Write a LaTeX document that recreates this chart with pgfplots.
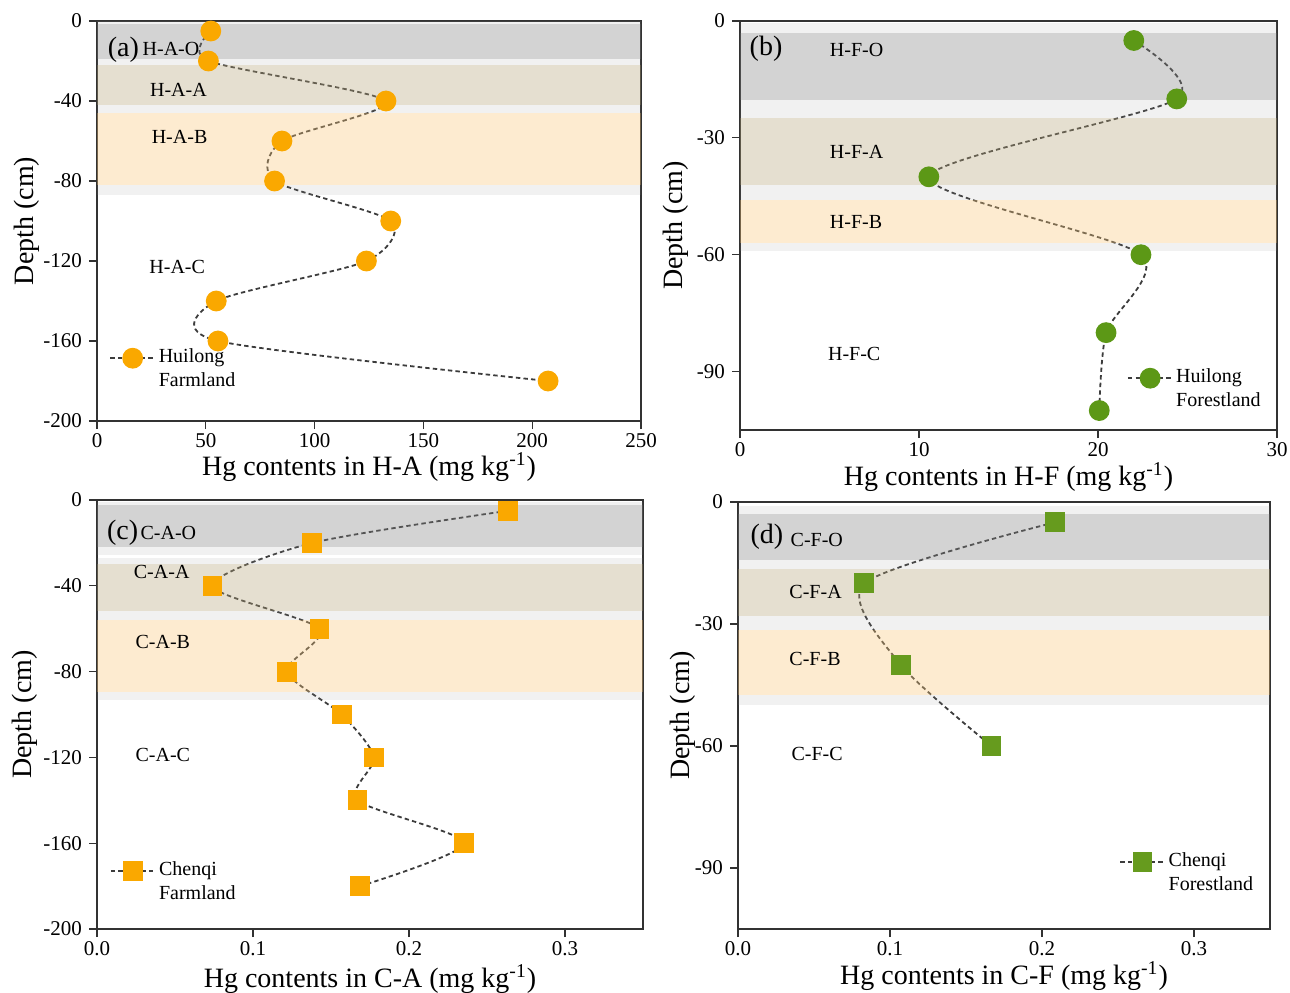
\documentclass[border=0pt]{standalone}
\usepackage{fontspec}
\setmainfont{Liberation Serif}
\usepackage{pgfplots}
\pgfplotsset{compat=1.18}
\definecolor{orangeM}{RGB}{250,168,0}
\definecolor{greenC}{RGB}{92,152,22}
\definecolor{greenS}{RGB}{102,155,30}
\definecolor{lineC}{RGB}{60,60,60}
\definecolor{axC}{RGB}{50,50,50}
\definecolor{bandG}{RGB}{129,129,129}
\definecolor{bandT}{RGB}{181,164,121}
\definecolor{bandO}{RGB}{249,198,121}
\definecolor{fringeC}{RGB}{150,150,150}
% color, xmax, fringe top, core top, core bottom, fringe bottom
\newcommand{\band}[6]{%
 \addplot[draw=none, fill=fringeC, fill opacity=0.13, forget plot] coordinates {(0,#3) (#2,#3) (#2,#4) (0,#4)} -- cycle;
 \addplot[draw=none, fill=#1, fill opacity=0.35, forget plot] coordinates {(0,#4) (#2,#4) (#2,#5) (0,#5)} -- cycle;
 \addplot[draw=none, fill=fringeC, fill opacity=0.13, forget plot] coordinates {(0,#5) (#2,#5) (#2,#6) (0,#6)} -- cycle;
}
\newcommand{\lfont}{\fontsize{14}{16}\selectfont}
\tikzset{
 lab/.style={anchor=west, font=\fontsize{10}{12}\selectfont, inner sep=0pt},
 plab/.style={anchor=west, font=\fontsize{14}{16}\selectfont, inner sep=0pt},
}
\pgfplotsset{
 panel/.style={
  scale only axis,
  axis line style={axC, line width=0.6pt},
  tick style={axC, line width=0.6pt},
  major tick length=4pt,
  tick align=outside,
  xtick pos=bottom, ytick pos=left,
  minor tick num=0,
  /pgf/number format/assume math mode=true,
  tick label style={font=\fontsize{10.5}{12}\selectfont},
  xticklabel style={inner sep=1pt, yshift=-1pt},
  legend cell align=left,
  legend image code/.code={\draw[mark repeat=2,mark phase=2,##1] plot coordinates {(0cm,0cm) (0.39cm,0cm) (0.78cm,0cm)};},
  legend style={draw=none, fill=none, inner sep=0pt, anchor=west,
    font=\fontsize{10}{12}\selectfont, nodes={inner sep=1.5pt}},
 },
 prof/.style={smooth, tension=0.45, lineC, line width=0.9pt, dash pattern=on 2.2pt off 1.6pt,
   mark options={solid, fill=#1, draw=#1}},
}
\begin{document}
\begin{tikzpicture}
\useasboundingbox (0,0) rectangle (645pt,-496pt);
% (a)
\begin{axis}[panel, at={(48.5pt,-10.5pt)}, anchor=north west, width=272pt, height=200pt,
  xmin=0, xmax=250, ymin=-200, ymax=0,
  xtick={0,50,100,150,200,250}, ytick={0,-40,-80,-120,-160,-200},
  xlabel={Hg contents in H-A (mg kg\textsuperscript{-1})}, ylabel={Depth (cm)},
  every axis x label/.style={at={(rel axis cs:0.5,0)}, yshift=-23pt, anchor=center, font=\lfont, inner sep=0pt},
  every axis y label/.style={at={(rel axis cs:0,0.5)}, xshift=-35pt, rotate=90, anchor=center, font=\lfont, inner sep=0pt},
  legend style={at={(axis cs:5.6,-168.6)}}]
\addplot[prof=orangeM, mark=*, mark size=4.75pt] coordinates {(52.3,-5) (51.2,-20) (132.8,-40) (85,-60) (81.6,-80) (135,-100) (123.8,-120) (54.8,-140) (55.6,-160) (207.3,-180)};
\addlegendentry{\raisebox{-0.3em}[0pt][0pt]{\begin{tabular}[t]{@{}l@{}}Huilong\\Farmland\end{tabular}}}
\band{bandG}{250}{0}{-1.5}{-19}{-21}
\band{bandT}{250}{-21}{-22}{-42}{-44.5}
\band{bandO}{250}{-44.5}{-46}{-82}{-87}
\node[plab] at (axis cs:4.8,-14.6) {(a)};
\node[lab] at (axis cs:20.8,-13.8) {H-A-O};
\node[lab] at (axis cs:24.2,-34.2) {H-A-A};
\node[lab] at (axis cs:25,-57.9) {H-A-B};
\node[lab] at (axis cs:23.9,-122.8) {H-A-C};
\end{axis}
% (b)
\begin{axis}[panel, at={(370pt,-10.5pt)}, anchor=north west, width=268.5pt, height=204.5pt,
  xmin=0, xmax=30, ymin=-105, ymax=0,
  xtick={0,10,20,30}, ytick={0,-30,-60,-90},
  xlabel={Hg contents in H-F (mg kg\textsuperscript{-1})}, ylabel={Depth (cm)},
  every axis x label/.style={at={(rel axis cs:0.5,0)}, yshift=-23.5pt, anchor=center, font=\lfont, inner sep=0pt},
  every axis y label/.style={at={(rel axis cs:0,0.5)}, xshift=-32pt, rotate=90, anchor=center, font=\lfont, inner sep=0pt},
  legend style={at={(axis cs:21.6,-91.7)}}]
\addplot[prof=greenC, mark=*, mark size=4.75pt] coordinates {(22.0,-5) (24.4,-20) (10.55,-40) (22.4,-60) (20.45,-80) (20.07,-100)};
\addlegendentry{\raisebox{-0.3em}[0pt][0pt]{\begin{tabular}[t]{@{}l@{}}Huilong\\Forestland\end{tabular}}}
\band{bandG}{30}{-0.5}{-3}{-20.2}{-22.4}
\band{bandT}{30}{-22.4}{-25}{-42.2}{-45}
\band{bandO}{30}{-45}{-46}{-57}{-59}
\node[plab] at (axis cs:0.52,-7.25) {(b)};
\node[lab] at (axis cs:5.0,-7.4) {H-F-O};
\node[lab] at (axis cs:5.0,-33.6) {H-F-A};
\node[lab] at (axis cs:5.0,-51.5) {H-F-B};
\node[lab] at (axis cs:4.9,-85.4) {H-F-C};
\end{axis}
% (c)
\begin{axis}[panel, at={(48.5pt,-250pt)}, anchor=north west, width=273pt, height=214.5pt,
  xmin=0, xmax=0.35, ymin=-200, ymax=0,
  xtick={0,0.1,0.2,0.3}, ytick={0,-40,-80,-120,-160,-200},
  xticklabel style={/pgf/number format/.cd, fixed, fixed zerofill, precision=1},
  xlabel={Hg contents in C-A (mg kg\textsuperscript{-1})}, ylabel={Depth (cm)},
  every axis x label/.style={at={(rel axis cs:0.5,0)}, yshift=-25pt, anchor=center, font=\lfont, inner sep=0pt},
  every axis y label/.style={at={(rel axis cs:0,0.5)}, xshift=-36pt, rotate=90, anchor=center, font=\lfont, inner sep=0pt},
  legend style={at={(axis cs:0.008,-172.8)}}]
\addplot[prof=orangeM, mark=square*, mark size=4.5pt] coordinates {(0.2637,-5) (0.138,-20) (0.074,-40) (0.1426,-60) (0.1216,-80) (0.1568,-100) (0.1776,-120) (0.167,-140) (0.2354,-160) (0.1687,-180)};
\addlegendentry{\raisebox{-0.3em}[0pt][0pt]{\begin{tabular}[t]{@{}l@{}}Chenqi\\Farmland\end{tabular}}}
\band{bandG}{0.35}{-1}{-2.5}{-21.8}{-25.5}
\band{bandT}{0.35}{-27}{-30}{-51.7}{-54}
\band{bandO}{0.35}{-54}{-56}{-89.5}{-93}
\node[plab] at (axis cs:0.0062,-15.3) {(c)};
\node[lab] at (axis cs:0.0277,-15.6) {C-A-O};
\node[lab] at (axis cs:0.0234,-33.5) {C-A-A};
\node[lab] at (axis cs:0.0245,-66.1) {C-A-B};
\node[lab] at (axis cs:0.0245,-118.8) {C-A-C};
\end{axis}
% (d)
\begin{axis}[panel, at={(369pt,-251pt)}, anchor=north west, width=266pt, height=213.5pt,
  xmin=0, xmax=0.35, ymin=-105, ymax=0,
  xtick={0,0.1,0.2,0.3}, ytick={0,-30,-60,-90},
  xticklabel style={/pgf/number format/.cd, fixed, fixed zerofill, precision=1},
  xlabel={Hg contents in C-F (mg kg\textsuperscript{-1})}, ylabel={Depth (cm)},
  every axis x label/.style={at={(rel axis cs:0.5,0)}, yshift=-23.5pt, anchor=center, font=\lfont, inner sep=0pt},
  every axis y label/.style={at={(rel axis cs:0,0.5)}, xshift=-27.5pt, rotate=90, anchor=center, font=\lfont, inner sep=0pt},
  legend style={at={(axis cs:0.2507,-88.6)}}]
\addplot[prof=greenS, mark=square*, mark size=4.5pt] coordinates {(0.2085,-5) (0.0831,-20) (0.107,-40) (0.1668,-60)};
\addlegendentry{\raisebox{-0.3em}[0pt][0pt]{\begin{tabular}[t]{@{}l@{}}Chenqi\\Forestland\end{tabular}}}
\band{bandG}{0.35}{-1}{-3}{-14.2}{-15.5}
\band{bandT}{0.35}{-15.5}{-16.5}{-28}{-29.5}
\band{bandO}{0.35}{-29.5}{-31.5}{-47.5}{-50}
\node[plab] at (axis cs:0.008,-8.5) {(d)};
\node[lab] at (axis cs:0.0344,-9.4) {C-F-O};
\node[lab] at (axis cs:0.0336,-22) {C-F-A};
\node[lab] at (axis cs:0.0336,-38.5) {C-F-B};
\node[lab] at (axis cs:0.035,-62) {C-F-C};
\end{axis}
\end{tikzpicture}
\end{document}
